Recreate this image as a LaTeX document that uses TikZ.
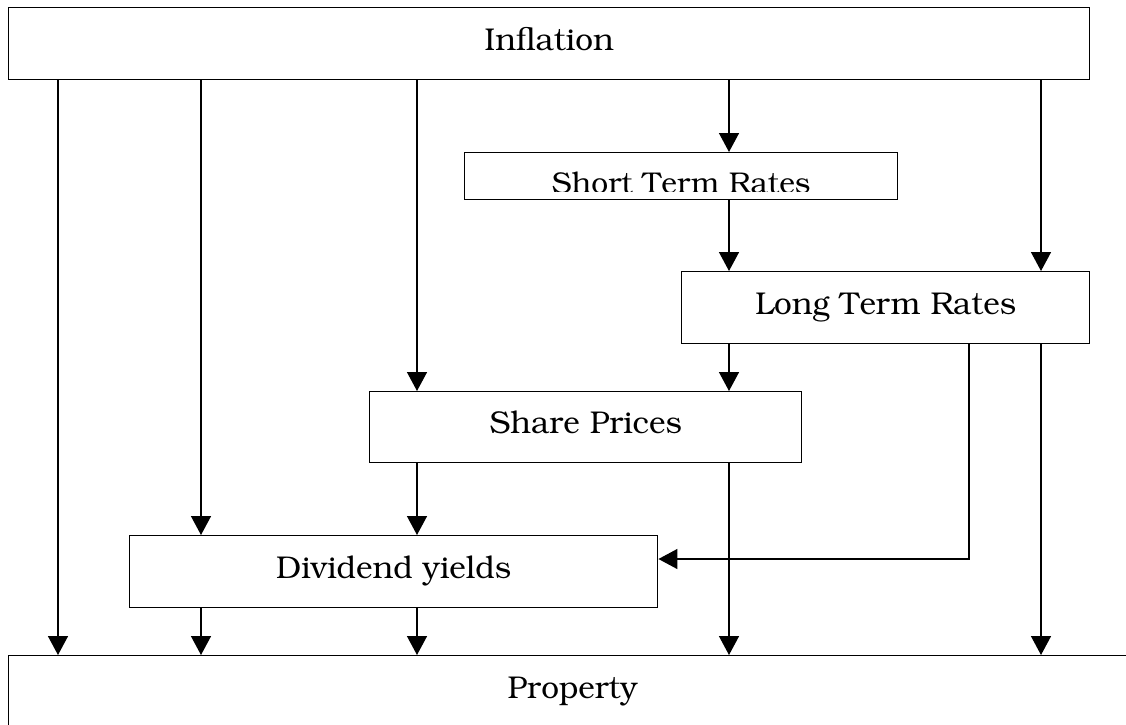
\documentclass[tikz,border=0pt]{standalone}
\usepackage[T1]{fontenc}
\usepackage{bookman}
\usetikzlibrary{arrows.meta}
\begin{document}
\begin{tikzpicture}[x=1pt,y=-1pt,
  box/.style={draw, line width=1.45pt, inner sep=0pt, anchor=north west,
    font=\fontsize{31.5}{36}\selectfont, text height=22pt, text depth=9.4pt},
  arr/.style={line width=1.45pt, -{Triangle[length=19pt,width=20pt]}}]
\useasboundingbox (0,0) rectangle (1126,724);
% boxes
\node[box, minimum width=1081pt, minimum height=72pt] (infl) at (8,7) {Inflation};
\node[box, minimum width=433pt, minimum height=47pt] (short) at (464,152) {};
\begin{scope}
  \clip (short.north west) rectangle ([yshift=9pt]short.south east);
  \node[font=\fontsize{30}{34}\selectfont, anchor=base, inner sep=0pt] (shortT) at ([yshift=6.5pt]short.south) {Short Term Rates};
\end{scope}
\node[box, minimum width=408pt, minimum height=72pt] (long) at (681,271) {Long Term Rates};
\node[box, minimum width=432pt, minimum height=71pt] (share) at (369,391) {Share Prices};
\node[box, minimum width=528pt, minimum height=72pt] (div) at (129,535) {Dividend yields};
\node[box, minimum width=1128pt, minimum height=72pt] (prop) at (8,655) {Property};
% column positions
\coordinate (xa) at (58,0);
\coordinate (xb) at (201,0);
\coordinate (xc) at (417,0);
\coordinate (xd) at (729,0);
\coordinate (xe) at (969,0);
\coordinate (xf) at (1041,0);
\coordinate (ydiv) at (0,559);
% connectors from Inflation
\draw[arr] (xa |- infl.south) -- (xa |- prop.north);
\draw[arr] (xb |- infl.south) -- (xb |- div.north);
\draw[arr] (xc |- infl.south) -- (xc |- share.north);
\draw[arr] (xd |- infl.south) -- (xd |- short.north);
\draw[arr] (xf |- infl.south) -- (xf |- long.north);
% Short term
\draw[arr] (xd |- short.south) -- (xd |- long.north);
% Long term
\draw[arr] (xd |- long.south) -- (xd |- share.north);
\draw[arr] (xe |- long.south) -- (xe |- ydiv) -- (div.east |- ydiv);
\draw[arr] (xf |- long.south) -- (xf |- prop.north);
% Share prices
\draw[arr] (xc |- share.south) -- (xc |- div.north);
\draw[arr] (xd |- share.south) -- (xd |- prop.north);
% Dividend yields
\draw[arr] (xb |- div.south) -- (xb |- prop.north);
\draw[arr] (xc |- div.south) -- (xc |- prop.north);
\end{tikzpicture}
\end{document}
